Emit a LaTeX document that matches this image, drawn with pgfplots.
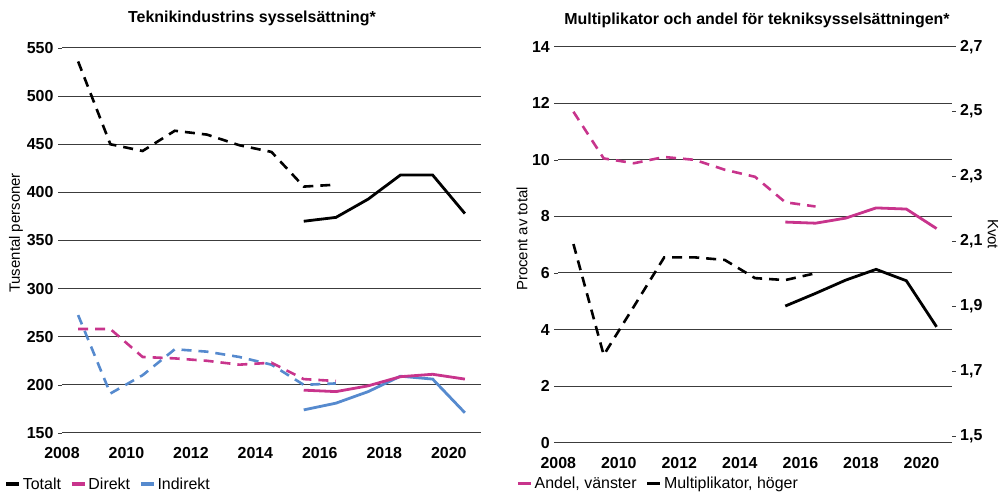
\documentclass[border=0pt]{standalone}
\usepackage{pgfplots}
\pgfplotsset{compat=1.18}
\usepackage{fontspec}
\setmainfont{Liberation Sans}
\definecolor{cpink}{RGB}{200,52,140}
\definecolor{cblue}{RGB}{86,138,206}
\definecolor{cgrid}{RGB}{60,60,60}
\pgfplotsset{
  base/.style={
    scale only axis,
    xmin=2008, xmax=2021,
    xtick={2008,2010,...,2020},
    /pgf/number format/assume math mode=true,
    /pgf/number format/1000 sep={},
    tick label style={font=\bfseries\fontsize{16}{16}\selectfont, black},
    tick align=outside,
    major tick length=4bp,
    tick style={cgrid, line width=0.6bp},
    xtick style={draw=none},
    ymajorgrids,
    grid style={cgrid, line width=1bp},
    axis x line*=bottom,
    axis y line*=left,
    x axis line style={cgrid, line width=1bp},
    y axis line style={draw=none},
    xticklabel style={yshift=-7bp},
    yticklabel style={xshift=-1bp},
    legend image code/.code={\draw[#1, solid, line width=3.5bp] (0bp,0bp) -- (13bp,0bp);},
    legend style={draw=none, fill=none, font=\fontsize{16}{16}\selectfont, inner sep=0pt,
      /tikz/every even column/.append style={column sep=7bp}},
    legend cell align=left,
  },
  dsh/.style={line width=2.6bp, dash pattern=on 10bp off 7bp},
  sld/.style={line width=2.8bp},
}
\begin{document}
\begin{tikzpicture}[x=1bp,y=1bp]
\useasboundingbox (0,0) rectangle (1002,493);
% ---------------- left panel
\begin{axis}[base,
  at={(62bp,60bp)}, anchor=south west, width=419bp, height=385bp,
  ymin=150, ymax=550, ytick={150,200,...,550},
  legend columns=3,
  legend style={at={(-0.138,-0.133)}, anchor=west},
]
\addlegendimage{black}\addlegendentry{Totalt}
\addlegendimage{cpink}\addlegendentry{Direkt}
\addlegendimage{cblue}\addlegendentry{Indirekt}
\addplot[black, dsh, forget plot] coordinates {(2008.5,536)(2009.5,450)(2010.5,443)(2011.5,464)(2012.5,460)(2013.5,449)(2014.5,442)(2015.5,406)(2016.5,408)};
\addplot[black, sld, forget plot] coordinates {(2015.5,370)(2016.5,374)(2017.5,393)(2018.5,418)(2019.5,418)(2020.5,378)};
\addplot[cblue, dsh, forget plot] coordinates {(2008.5,272.5)(2009.5,191)(2010.5,210)(2011.5,237)(2012.5,234.5)(2013.5,229)(2014.5,221)(2015.5,200)(2016.5,201.5)};
\addplot[cpink, dsh, forget plot] coordinates {(2008.5,258)(2009.5,258)(2010.5,229)(2011.5,227.5)(2012.5,225)(2013.5,221)(2014.5,223)(2015.5,206)(2016.5,204)};
\addplot[cblue, sld, forget plot] coordinates {(2015.5,174)(2016.5,181)(2017.5,193)(2018.5,209)(2019.5,206)(2020.5,171)};
\addplot[cpink, sld, forget plot] coordinates {(2015.5,194.5)(2016.5,193)(2017.5,199)(2018.5,208.5)(2019.5,211)(2020.5,206)};
\end{axis}
% ---------------- right panel, left scale
\begin{axis}[base,
  at={(558.3bp,50.3bp)}, anchor=south west, width=393.4bp, height=396bp,
  ymin=0, ymax=14, ytick={0,2,...,14},
  legend columns=2,
  legend style={at={(-0.1075,-0.1035)}, anchor=west},
]
\addlegendimage{cpink}\addlegendentry{Andel, vänster}
\addlegendimage{black}\addlegendentry{Multiplikator, höger}
\addplot[cpink, dsh, forget plot] coordinates {(2008.5,11.7)(2009.5,10.05)(2010.5,9.88)(2011.5,10.1)(2012.5,10.0)(2013.5,9.65)(2014.5,9.4)(2015.5,8.5)(2016.5,8.35)};
\addplot[cpink, sld, forget plot] coordinates {(2015.5,7.8)(2016.5,7.76)(2017.5,7.94)(2018.5,8.3)(2019.5,8.26)(2020.5,7.57)};
\end{axis}
% ---------------- right panel, right scale
\begin{axis}[
  scale only axis,
  at={(558.3bp,50.3bp)}, anchor=south west, width=393.4bp, height=396bp,
  xmin=2008, xmax=2021,
  ymin=1.48, ymax=2.7, ytick={1.5,1.7,...,2.71},
  axis x line=none,
  axis y line*=right,
  y axis line style={draw=none},
  tick align=outside,
  major tick length=4bp,
  tick style={cgrid, line width=0.6bp},
  /pgf/number format/assume math mode=true,
  yticklabel style={xshift=1bp, /pgf/number format/.cd, fixed, fixed zerofill, precision=1, use comma},
  tick label style={font=\bfseries\fontsize{16}{16}\selectfont, black},
]
\addplot[black, dsh] coordinates {(2008.5,2.092)(2009.5,1.75)(2010.5,1.90)(2011.5,2.051)(2012.5,2.051)(2013.5,2.043)(2014.5,1.987)(2015.5,1.981)(2016.5,2.002)};
\addplot[black, sld] coordinates {(2015.5,1.901)(2016.5,1.94)(2017.5,1.981)(2018.5,2.014)(2019.5,1.979)(2020.5,1.837)};
\end{axis}
% titles and axis labels
\node[font=\bfseries\fontsize{16}{16}\selectfont] at (252,475) {Teknikindustrins sysselsättning*};
\node[font=\bfseries\fontsize{16}{16}\selectfont] at (757,473) {Multiplikator och andel för tekniksysselsättningen*};
\node[rotate=90, font=\fontsize{15}{15}\selectfont] at (16,260) {Tusental personer};
\node[rotate=90, font=\fontsize{15}{15}\selectfont] at (522,254) {Procent av total};
\node[rotate=-90, font=\fontsize{15}{15}\selectfont] at (993,259) {Kvot};
\end{tikzpicture}
\end{document}
